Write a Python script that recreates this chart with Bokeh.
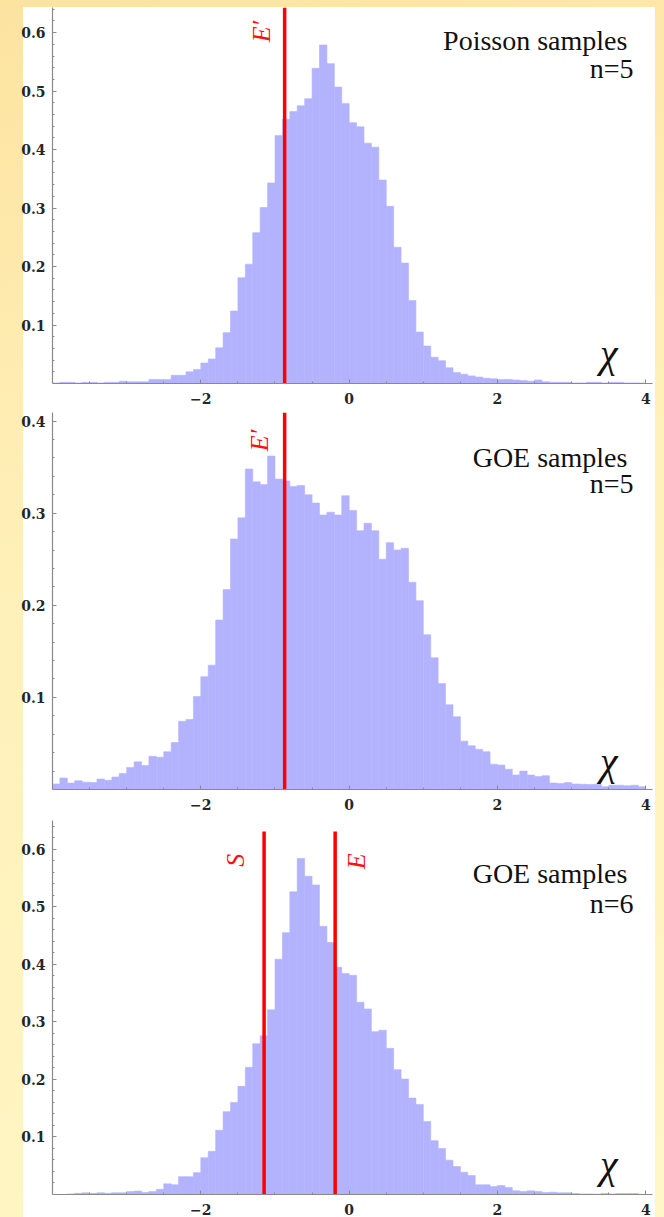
import numpy as np
from bokeh.plotting import figure
from bokeh.layouts import column
from bokeh.models import Range1d, FixedTicker, Label
from bokeh.embed import file_html
from bokeh.resources import INLINE

# ---- data -------------------------------------------------------------
bin_width = 0.1
bin_left = np.round(np.arange(-4.0, 3.95, bin_width), 1)  # 80 bins, -4.0 .. 3.9

poisson_n5 = [
    0.001, 0.002, 0.002, 0.001, 0.002, 0.002, 0.001, 0.002, 0.002, 0.004,
    0.003, 0.003, 0.003, 0.007, 0.007, 0.007, 0.014, 0.014, 0.020, 0.024,
    0.035, 0.042, 0.061, 0.087, 0.124, 0.181, 0.204, 0.258, 0.301, 0.343,
    0.424, 0.452, 0.465, 0.475, 0.487, 0.539, 0.579, 0.547, 0.507, 0.479,
    0.446, 0.439, 0.411, 0.404, 0.348, 0.303, 0.233, 0.206, 0.142, 0.088,
    0.064, 0.045, 0.039, 0.027, 0.019, 0.016, 0.013, 0.011, 0.009, 0.008,
    0.007, 0.007, 0.006, 0.005, 0.004, 0.006, 0.003, 0.002, 0.002, 0.002,
    0.001, 0.001, 0.002, 0.002, 0.001, 0.002, 0.002, 0.001, 0.001, 0.001,
]

goe_n5 = [
    0.006, 0.0125, 0.007, 0.0096, 0.008, 0.0075, 0.0114, 0.010, 0.0136, 0.0175,
    0.024, 0.030, 0.026, 0.036, 0.035, 0.041, 0.051, 0.074, 0.076, 0.101,
    0.1225, 0.135, 0.184, 0.217, 0.272, 0.295, 0.348, 0.334, 0.331, 0.362,
    0.337, 0.335, 0.329, 0.330, 0.320, 0.311, 0.298, 0.301, 0.298, 0.319,
    0.303, 0.281, 0.289, 0.281, 0.250, 0.268, 0.260, 0.262, 0.225, 0.205,
    0.168, 0.143, 0.115, 0.092, 0.079, 0.0525, 0.0475, 0.0436, 0.041, 0.0275,
    0.0265, 0.022, 0.0157, 0.020, 0.0157, 0.014, 0.015, 0.0071, 0.0064, 0.0075,
    0.006, 0.0057, 0.0054, 0.0057, 0.003, 0.0046, 0.0046, 0.004, 0.0046, 0.003,
]

goe_n6 = [
    0.0, 0.0, 0.001, 0.002, 0.003, 0.002, 0.003, 0.0023, 0.003, 0.003,
    0.005, 0.006, 0.0035, 0.005, 0.009, 0.0185, 0.017, 0.031, 0.031, 0.038,
    0.064, 0.075, 0.1116, 0.144, 0.160, 0.188, 0.221, 0.262, 0.276, 0.321,
    0.409, 0.455, 0.526, 0.584, 0.553, 0.538, 0.466, 0.438, 0.395, 0.384,
    0.381, 0.334, 0.3225, 0.283, 0.2855, 0.254, 0.217, 0.2006, 0.1676, 0.1566,
    0.127, 0.0936, 0.080, 0.0595, 0.0486, 0.0387, 0.033, 0.0168, 0.0168, 0.0139,
    0.0156, 0.012, 0.0064, 0.0052, 0.0064, 0.0052, 0.0035, 0.004, 0.003, 0.003,
    0.0017, 0.001, 0.001, 0.0005, 0.0017, 0.001, 0.0017, 0.0017, 0.0017, 0.0,
]

x_major_ticks = [-2, 0, 2, 4]
x_tick_labels = {-2: "\u22122", 0: "0", 2: "2", 4: "4"}

# marker lines: (x position, label)
panel1_markers = [(-0.87, "E\u2032")]
panel2_markers = [(-0.87, "E\u2032")]
panel3_markers = [(-1.147, "S"), (-0.189, "E")]

BAR = "#b3b3fd"
AXIS = "#8a8a8a"


def make_panel(values, ymax, height, top_b, bottom_b, margin, y_major,
               markers, line_top, label_pos, title, ntext, title_y, n_y, chi_y):
    p = figure(width=640, height=height, output_backend="svg",
               toolbar_location=None,
               x_range=Range1d(-4.0, 4.09), y_range=Range1d(0, ymax),
               min_border_left=37, min_border_right=3,
               min_border_top=top_b, min_border_bottom=bottom_b,
               background_fill_color="white", border_fill_color=None,
               outline_line_color=None, margin=margin)
    p.grid.visible = False

    p.quad(left=bin_left, right=bin_left + bin_width, bottom=0, top=values,
           fill_color=BAR, line_color=BAR, line_width=0.6)

    for (mx, _), (lx, ly) in zip(markers, label_pos):
        p.segment(x0=[mx], y0=[0], x1=[mx], y1=[line_top],
                  line_color="#ff0000", line_width=3.5)
    for (mx, txt), (lx, ly) in zip(markers, label_pos):
        p.add_layout(Label(x=lx, y=ly, text=txt, angle=np.pi / 2,
                           text_align="center", text_baseline="alphabetic",
                           text_color="#ff1010", text_font="Liberation Serif",
                           text_font_style="italic", text_font_size="26px"))

    p.add_layout(Label(x=3.752, y=title_y, text=title, text_align="right",
                       text_baseline="alphabetic", text_font="Liberation Serif",
                       text_font_size="28px", text_color="#111111"))
    p.add_layout(Label(x=3.833, y=n_y, text=ntext, text_align="right",
                       text_baseline="alphabetic", text_font="Liberation Serif",
                       text_font_size="28px", text_color="#111111"))
    p.add_layout(Label(x=3.5, y=chi_y, text="\u03c7", text_align="center",
                       text_baseline="alphabetic", text_font="Liberation Serif",
                       text_font_style="italic", text_font_size="40px",
                       text_color="#111111"))

    minor_x = [v / 2 for v in range(-7, 8) if v % 4 != 0]
    p.xaxis.ticker = FixedTicker(ticks=x_major_ticks, minor_ticks=minor_x)
    p.xaxis.major_label_overrides = x_tick_labels
    minor_y = [round(0.02 * k, 2) for k in range(1, int(ymax / 0.02) + 1) if k % 5]
    p.yaxis.ticker = FixedTicker(ticks=y_major, minor_ticks=minor_y)
    p.yaxis.major_label_overrides = {v: f"{v:.1f}" for v in y_major}

    p.axis.axis_line_color = AXIS
    p.axis.axis_line_width = 1.2
    p.axis.major_tick_line_color = AXIS
    p.axis.minor_tick_line_color = AXIS
    p.axis.major_tick_in = 4
    p.axis.major_tick_out = 0
    p.axis.minor_tick_in = 2
    p.axis.minor_tick_out = 0
    p.axis.major_label_text_font = "DejaVu Serif"
    p.axis.major_label_text_font_style = "bold"
    p.axis.major_label_text_font_size = "14px"
    p.axis.major_label_text_color = "#262626"
    p.xaxis.major_label_standoff = 9
    p.yaxis.major_label_standoff = 7
    return p


p1 = make_panel(poisson_n5, 0.643, 400, 0, 24, (7, 9, 0, 15),
                [0.1, 0.2, 0.3, 0.4, 0.5, 0.6], panel1_markers, 0.643,
                [(-1.185, 0.602)], "Poisson samples", "n=5", 0.586, 0.538, 0.0513)
p2 = make_panel(goe_n5, 0.4093, 405, 5, 19, (0, 9, 0, 15),
                [0.1, 0.2, 0.3, 0.4], panel2_markers, 0.4093,
                [(-1.205, 0.379)], "GOE samples", "n=5", 0.360, 0.332, 0.030)
p3 = make_panel(goe_n6, 0.650, 405, 8, 22, (0, 9, 0, 15),
                [0.1, 0.2, 0.3, 0.4, 0.5, 0.6], panel3_markers, 0.631,
                [(-1.53, 0.581), (0.095, 0.579)], "GOE samples", "n=6",
                0.558, 0.506, 0.052)

bg = ("linear-gradient(#ffffff, #ffffff) 23px 7px / 632px 1210px no-repeat, "
      "linear-gradient(165deg, #fde3a0 0%, #fff0b8 40%, #fff7c6 100%)")
layout = column(p1, p2, p3, spacing=0, styles={"background": bg})

open("out.html", "w").write(file_html(layout, INLINE))
